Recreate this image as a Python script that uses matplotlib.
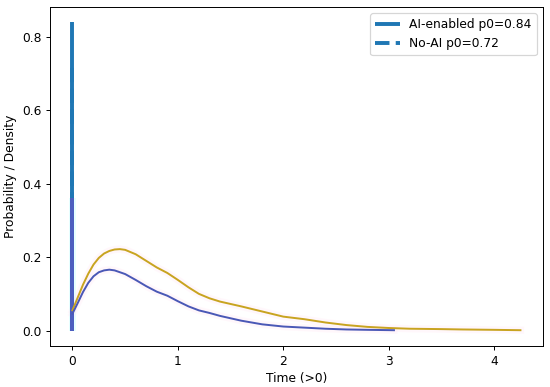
import numpy as np
import matplotlib
matplotlib.use('Agg')
import matplotlib.pyplot as plt

# point mass at zero
p0_ai = 0.84
p0_noai = 0.72
spike_low = 0.36

# continuous part (t > 0)
t_ai = [0.0, 0.05, 0.1, 0.15, 0.2, 0.25, 0.3, 0.35, 0.4, 0.5, 0.6, 0.7, 0.8, 0.9, 1.0,
        1.1, 1.2, 1.3, 1.4, 1.6, 1.8, 2.0, 2.2, 2.4, 2.6, 2.8, 3.05]
d_ai = [0.046, 0.075, 0.105, 0.13, 0.148, 0.159, 0.164, 0.166, 0.164, 0.154, 0.138, 0.121,
        0.106, 0.095, 0.08, 0.066, 0.055, 0.048, 0.04, 0.027, 0.017, 0.011, 0.008, 0.005,
        0.003, 0.002, 0.001]

t_noai = [0.0, 0.05, 0.1, 0.15, 0.2, 0.25, 0.3, 0.35, 0.4, 0.45, 0.5, 0.6, 0.7, 0.8, 0.9,
          1.0, 1.1, 1.2, 1.3, 1.4, 1.6, 1.8, 2.0, 2.2, 2.4, 2.6, 2.8, 3.0, 3.2, 3.5, 3.7,
          4.0, 4.25]
d_noai = [0.055, 0.09, 0.125, 0.155, 0.18, 0.198, 0.21, 0.217, 0.221, 0.222, 0.22, 0.208,
          0.19, 0.172, 0.157, 0.138, 0.118, 0.1, 0.088, 0.079, 0.066, 0.052, 0.038, 0.031,
          0.022, 0.015, 0.01, 0.007, 0.005, 0.004, 0.003, 0.002, 0.001]

fig, ax = plt.subplots(figsize=(550 / 88, 387 / 88), dpi=88)
fig.subplots_adjust(left=0.091, right=0.987, top=0.982, bottom=0.106)

# faint shading around the spike and curves
ax.fill_betweenx([0, spike_low], -0.03, 0.03, color='#e6ffff', lw=0, zorder=0)
ax.plot(t_noai, d_noai, color='#ffe3f3', lw=6, alpha=0.25, zorder=0)
ax.plot(t_ai, d_ai, color='#ffe3f3', lw=6, alpha=0.25, zorder=0)

h_noai = ax.vlines(0, 0, p0_noai, color='#1f77b4', lw=3.2, linestyles='--',
                   label=f'No-AI p0={p0_noai}', zorder=2)
h_ai = ax.vlines(0, 0, p0_ai, color='#1f77b4', lw=3.2, label=f'AI-enabled p0={p0_ai}',
                 zorder=3)
ax.vlines(0, 0, spike_low, color='#4d5ebf', lw=3.2, zorder=4)

ax.plot(t_noai, d_noai, color='#c8a420', lw=1.6, zorder=5)
ax.plot(t_ai, d_ai, color='#4a58b6', lw=1.6, zorder=5)

x_max = max(t_noai)
ax.set_xlim(-0.05 * x_max, 1.05 * x_max)
ax.set_xlabel('Time (>0)')
ax.set_ylabel('Probability / Density')
ax.legend(handles=[h_ai, h_noai], loc='upper right')

plt.savefig('out.png')
